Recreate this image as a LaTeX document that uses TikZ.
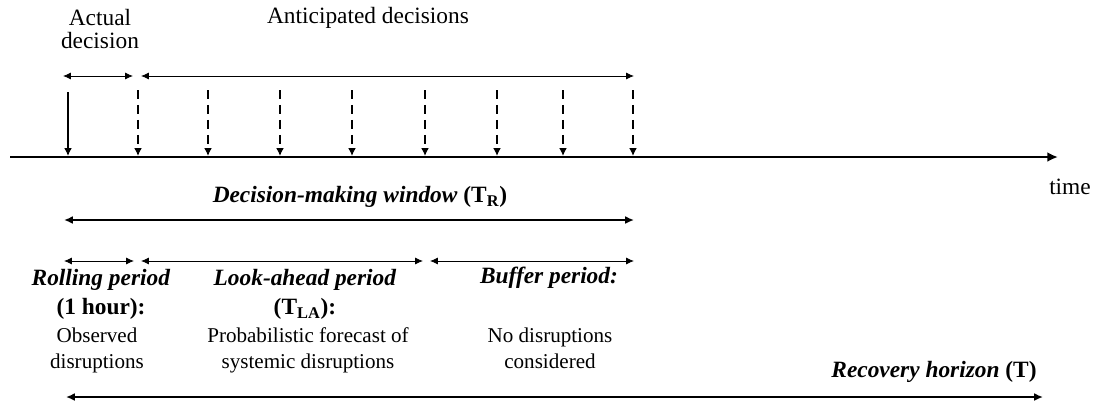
\documentclass[tikz,border=0pt]{standalone}
\usepackage{fontspec}
\setmainfont{Liberation Serif}
\usetikzlibrary{arrows.meta}
\tikzstyle{axis} = [line width=1.5pt, -{Latex[length=6pt,width=5.5pt]}]
\tikzstyle{decision} = [line width=1.4pt, -{Latex[length=4.5pt,width=4.5pt]}]
\tikzstyle{future} = [decision, dash pattern=on 5pt off 3.5pt]
\tikzstyle{span} = [line width=0.5pt, {Latex[length=4.5pt,width=4pt]}-{Latex[length=4.5pt,width=4pt]}]
\tikzstyle{window} = [line width=1.2pt, {Latex[length=5pt,width=4.5pt]}-{Latex[length=5pt,width=4.5pt]}]
\tikzstyle{plain} = [font=\fontsize{13.3}{13}\selectfont, align=center, inner sep=0pt]
\tikzstyle{title} = [font=\fontsize{13.3}{16.5}\selectfont\bfseries, align=center, inner sep=0pt]
\tikzstyle{desc} = [font=\fontsize{12}{14.8}\selectfont, align=center, inner sep=0pt]

\begin{document}
\begin{tikzpicture}[x=0.02cm, y=-0.02cm]
\useasboundingbox (0,0) rectangle (1094,400);

% Axe du temps
\coordinate (origin) at (10,157);
\coordinate (end) at (1058,157);
\draw [axis] (origin) -- (end);
\node (time) [plain] at (1070,187) {time};

% Decisions (actuelle puis anticipees)
\coordinate (top0) at (68,92);
\coordinate (tick0) at (68,156);
\draw [decision] (top0) -- (tick0);
\foreach \i/\x in {1/138,2/208,3/280,4/352,5/425,6/497,7/563,8/633} {
    \coordinate (top\i) at (\x,90);
    \coordinate (tick\i) at (\x,156);
    \draw [future] (top\i) -- (tick\i);
}

% Periodes du haut
\coordinate (actL) at (63,76);
\coordinate (actR) at (133,76);
\coordinate (antL) at (141,76);
\coordinate (antR) at (634,76);
\draw [span] (actL) -- (actR);
\draw [span] (antL) -- (antR);
\node (actual) [plain] at (100,29) {Actual\\decision};
\node (anticipated) [plain] at (368,18) {Anticipated decisions};

% Fenetre de decision
\coordinate (winL) at (64,220);
\coordinate (winR) at (634,220);
\draw [window] (winL) -- (winR);
\node (window) [title] at (360,197) {\textit{Decision-making window} (T\textsubscript{R})};

% Periodes du bas
\coordinate (rolL) at (64,261);
\coordinate (rolR) at (134,261);
\coordinate (lookL) at (141,261);
\coordinate (lookR) at (423,261);
\coordinate (bufL) at (430,261);
\coordinate (bufR) at (634,261);
\draw [span] (rolL) -- (rolR);
\draw [span] (lookL) -- (lookR);
\draw [span] (bufL) -- (bufR);

\node (rolling) [title] at (101,294.5) {\textit{Rolling period}\\(1 hour):};
\node (rollingtxt) [desc] at (97,350) {Observed\\disruptions};
\node (lookahead) [title] at (305,294.5) {\textit{Look-ahead period}\\(T\textsubscript{LA}):};
\node (lookaheadtxt) [desc] at (308,350) {Probabilistic forecast of\\systemic disruptions};
\node (buffer) [title] at (549,278) {\textit{Buffer period:}};
\node (buffertxt) [desc] at (550,348.5) {No disruptions\\considered};

% Horizon de reprise
\coordinate (recL) at (66,397);
\coordinate (recR) at (1043,397);
\draw [window] (recL) -- (recR);
\node (recovery) [title] at (934,372) {\textit{Recovery horizon} (T)};

\end{tikzpicture}
\end{document}
